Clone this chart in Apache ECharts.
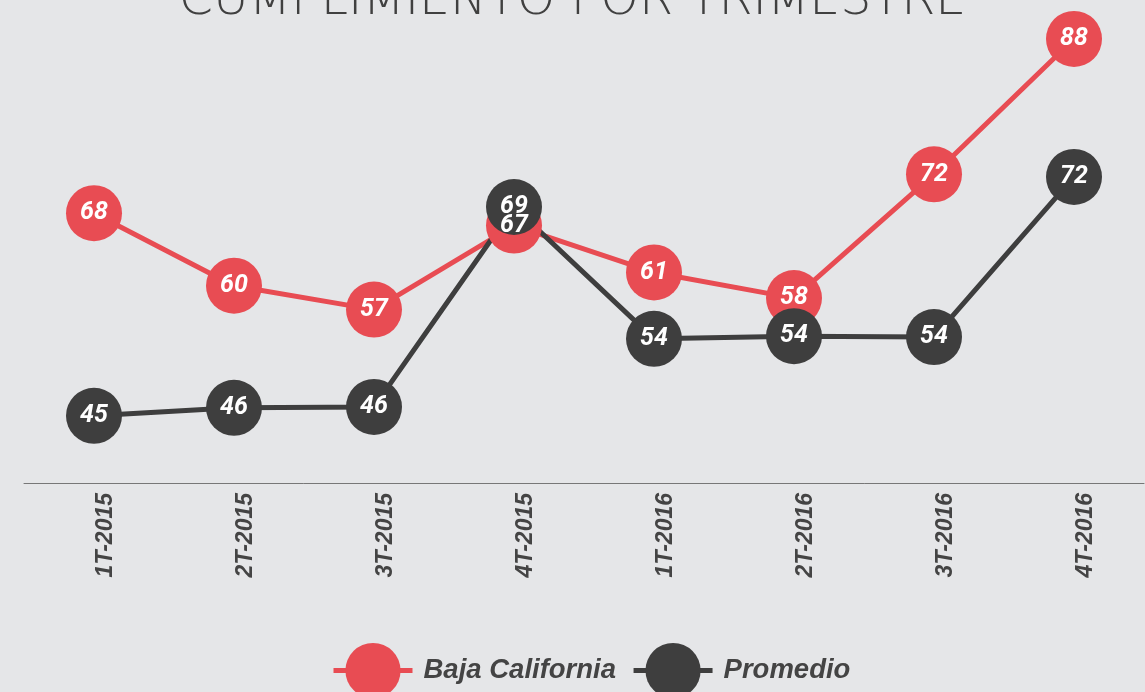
<!DOCTYPE html>
<html>
<head>
<meta charset="utf-8">
<script src="https://cdn.jsdelivr.net/npm/echarts@6/dist/echarts.min.js"></script>
<style>
  html, body { margin: 0; padding: 0; background: #e5e6e8; }
  #chart { width: 1145px; height: 692px; }
</style>
</head>
<body>
<div id="chart"></div>
<script>
// trimestres
const categories = ['1T-2015', '2T-2015', '3T-2015', '4T-2015', '1T-2016', '2T-2016', '3T-2016', '4T-2016']
// valores
const bajaCalifornia = [67.9, 59.7, 57.0, 66.5, 61.2, 58.3, 72.3, 87.6]
const promedio = [45.0, 45.9, 46.0, 68.6, 53.7, 54.0, 53.9, 72.0]

const RED = '#e84c53'
const DARK = '#3e3e3e'

const myChart = echarts.init(document.getElementById('chart'))

const labelStyle = {
  show: true,
  position: 'inside',
  color: '#fff',
  fontFamily: 'Roboto',
  fontStyle: 'italic',
  fontWeight: 'bold',
  fontSize: 25,
  formatter: p => Math.round(p.value)
}

const option = {
  backgroundColor: '#e5e6e8',
  title: {
    text: 'CUMPLIMIENTO POR TRIMESTRE',
    left: 'center',
    top: -28,
    textStyle: {
      fontFamily: 'DejaVu Sans',
      fontWeight: 200,
      fontSize: 49,
      color: '#404040'
    }
  },
  legend: {
    left: 326,
    top: 638,
    itemWidth: 79,
    itemHeight: 69,
    itemGap: 15,
    lineStyle: { width: 5 },
    textStyle: {
      fontFamily: 'Liberation Sans',
      fontStyle: 'italic',
      fontWeight: 'bold',
      fontSize: 27.5,
      color: '#444',
      padding: [0, 0, 0, 6]
    },
    data: ['Baja California', 'Promedio']
  },
  grid: {
    left: 24,
    right: 1,
    top: 0,
    bottom: 209
  },
  xAxis: {
    type: 'category',
    data: categories,
    boundaryGap: true,
    axisLine: { lineStyle: { color: '#777', width: 1 } },
    axisTick: { show: false },
    axisLabel: {
      rotate: 90,
      margin: 10,
      verticalAlign: 'top',
      fontFamily: 'Liberation Sans',
      fontStyle: 'italic',
      fontWeight: 'bold',
      fontSize: 23,
      color: '#444'
    }
  },
  yAxis: {
    type: 'value',
    min: 37.4,
    max: 92,
    show: false,
    splitLine: { show: false }
  },
  series: [
    {
      name: 'Baja California',
      type: 'line',
      data: bajaCalifornia,
      symbol: 'circle',
      symbolSize: 56,
      color: RED,
      lineStyle: { color: RED, width: 5 },
      itemStyle: { color: RED },
      label: labelStyle
    },
    {
      name: 'Promedio',
      type: 'line',
      data: promedio,
      symbol: 'circle',
      symbolSize: 56,
      color: DARK,
      lineStyle: { color: DARK, width: 5 },
      itemStyle: { color: DARK },
      label: labelStyle
    }
  ]
}

myChart.setOption(option)
</script>
</body>
</html>
